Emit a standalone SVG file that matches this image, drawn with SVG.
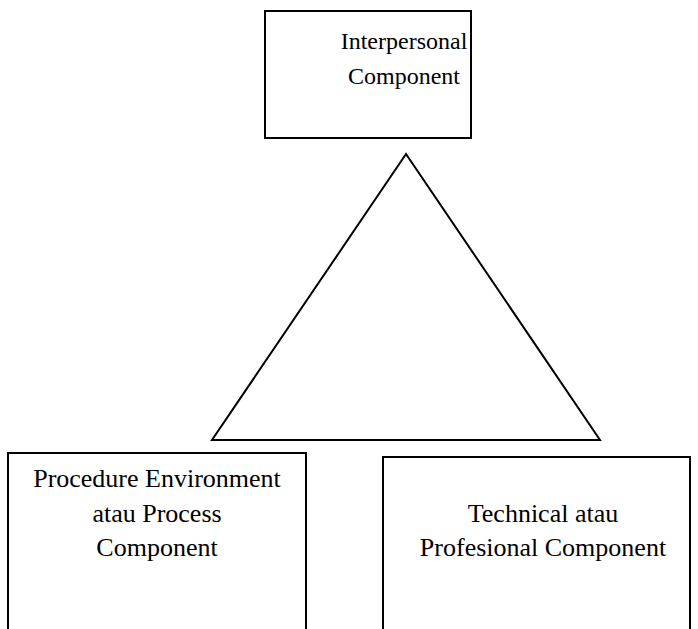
<svg xmlns="http://www.w3.org/2000/svg" width="698" height="629" viewBox="0 0 698 629">
<style>
.box{fill:#fff;stroke:#000;stroke-width:2}
.t{font-family:"Liberation Serif","Times New Roman",serif;font-size:26px;fill:#000;text-anchor:middle}
.s{font-size:24px}
</style>
<rect width="698" height="629" fill="#fff"/>
<g id="interpersonal">
<rect class="box" x="265" y="11" width="206" height="127"/>
<text class="t s" x="404" y="49">Interpersonal</text>
<text class="t s" x="404" y="84">Component</text>
</g>
<g id="triangle">
<polygon points="406,154 212,440 600,440" fill="none" stroke="#000" stroke-width="2" stroke-linejoin="miter"/>
</g>
<g id="procedure">
<rect class="box" x="8" y="453" width="298" height="200"/>
<text class="t" x="157" y="487">Procedure Environment</text>
<text class="t" x="157" y="522">atau Process</text>
<text class="t" x="157" y="556">Component</text>
</g>
<g id="technical">
<rect class="box" x="383" y="457" width="307" height="200"/>
<text class="t" x="543" y="522">Technical atau</text>
<text class="t" x="543" y="556">Profesional Component</text>
</g>
<g id="connectors"></g>
</svg>
